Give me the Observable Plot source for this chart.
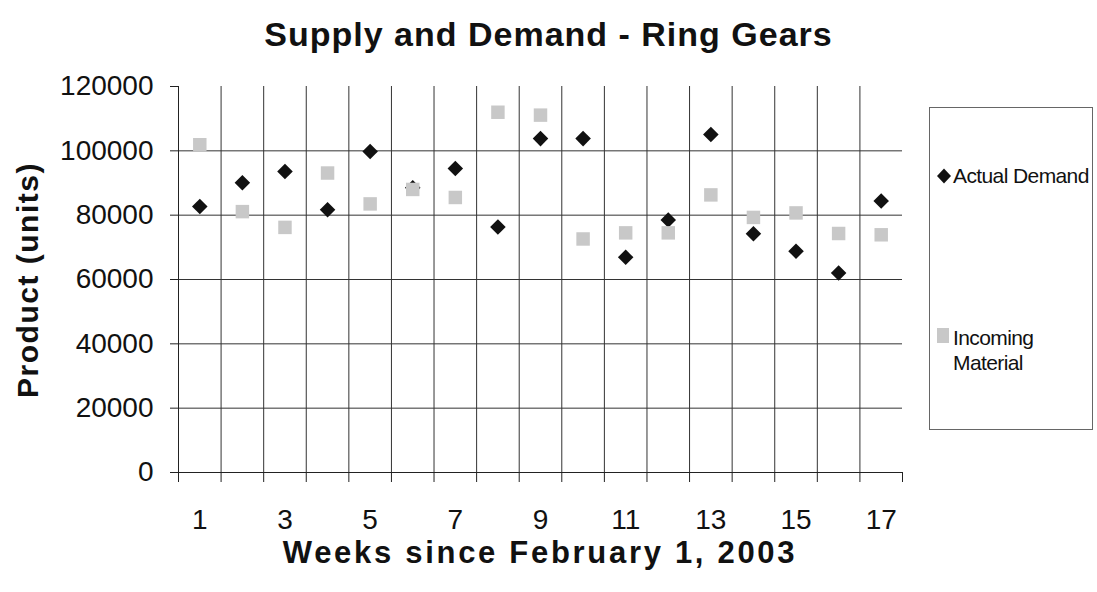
<!DOCTYPE html>
<html>
<head>
<meta charset="utf-8">
<script src="https://cdn.jsdelivr.net/npm/d3@7"></script>
<script src="https://cdn.jsdelivr.net/npm/@observablehq/plot@0.6"></script>
<style>
  html, body { margin: 0; padding: 0; background: #fff; }
  body { font-family: "Liberation Sans", Arial, sans-serif; color: #111; }
  #wrap { position: relative; width: 1097px; height: 592px; overflow: hidden; }
  #wrap > svg { position: absolute; left: 0; top: 0; }
  .title { position: absolute; left: 0; width: 1097px; top: 13px; text-align: center;
           font-weight: bold; font-size: 34px; letter-spacing: 1px; line-height: 42px; }
  .xtitle { position: absolute; left: 178px; width: 724px; top: 537px; text-align: center;
            font-weight: bold; font-size: 31px; letter-spacing: 2.7px; line-height: 32px; }
  .ytitle { position: absolute; left: 28px; top: 280px; transform: translate(-50%, -50%) rotate(-90deg);
            white-space: nowrap; font-weight: bold; font-size: 30px; letter-spacing: 1.5px; line-height: 36px; }
  .legend { position: absolute; left: 929px; top: 107px; width: 164px; height: 323px;
            border: 1px solid #666; box-sizing: border-box; background: #fff; }
  .sym { position: absolute; left: 7px; }
  .ltext { position: absolute; left: 23px; font-size: 21px; letter-spacing: -0.6px; line-height: 25px; white-space: pre; }
</style>
</head>
<body>
<div id="wrap"></div>
<script>
// ---- data ----
const weeks = [1, 2, 3, 4, 5, 6, 7, 8, 9, 10, 11, 12, 13, 14, 15, 16, 17];
const actualDemand = [82700, 90100, 93600, 81700, 99800, 88500, 94500, 76300, 103800, 103800, 66900, 78500, 105100, 74200, 68800, 62000, 84400];
const incomingMaterial = [101900, 81100, 76200, 93100, 83500, 88000, 85500, 112000, 111100, 72600, 74500, 74500, 86300, 79300, 80700, 74300, 73900];
const yTickValues = [0, 20000, 40000, 60000, 80000, 100000, 120000];
const xTickLabels = [1, 3, 5, 7, 9, 11, 13, 15, 17];
const seriesNames = ["Actual Demand", "Incoming Material"];
const titleText = "Supply and Demand - Ring Gears";
const xTitleText = "Weeks since February 1, 2003";
const yTitleText = "Product (units)";

// ---- derived tables ----
const demandData = weeks.map((w, i) => ({week: w, value: actualDemand[i]}));
const incomingData = weeks.map((w, i) => ({week: w, value: incomingMaterial[i]}));
const categoryEdges = [weeks[0] - 0.5, ...weeks.map(w => w + 0.5)];
const innerEdges = categoryEdges.slice(1, -1);
const yMax = yTickValues[yTickValues.length - 1];

const chart = Plot.plot({
  width: 1097,
  height: 592,
  marginLeft: 178,
  marginRight: 195,
  marginTop: 86,
  marginBottom: 120,
  style: {fontFamily: '"Liberation Sans", Arial, sans-serif', background: "transparent", color: "#111", overflow: "visible"},
  x: {domain: [categoryEdges[0], categoryEdges[categoryEdges.length - 1]]},
  y: {domain: [0, yMax]},
  marks: [
    Plot.ruleY(yTickValues.filter(d => d > 0 && d < yMax), {stroke: "#333", strokeWidth: 1}),
    Plot.ruleX(innerEdges, {y1: 0, y2: yMax, stroke: "#333", strokeWidth: 1}),
    Plot.ruleX([categoryEdges[0]], {y1: 0, y2: yMax, stroke: "#222", strokeWidth: 1}),
    Plot.ruleY([0], {stroke: "#222", strokeWidth: 1}),
    Plot.axisY({ticks: yTickValues, tickFormat: d => String(d), tickSize: 8, tickPadding: 17, fontSize: 28, label: null, stroke: "#222"}),
    Plot.axisX({ticks: categoryEdges, tickFormat: () => "", tickSize: 10, label: null, stroke: "#222"}),
    Plot.axisX({ticks: xTickLabels, tickFormat: d => String(d), tickSize: 0, tickPadding: 37, fontSize: 28, label: null}),
    Plot.dot(demandData, {x: "week", y: "value", symbol: "diamond2", r: 7, fill: "#111", stroke: "none"}),
    Plot.dot(incomingData, {x: "week", y: "value", symbol: "square", r: 7.6, fill: "#c8c8c8", stroke: "none"})
  ]
});

const wrap = document.getElementById("wrap");
wrap.appendChild(chart);

function addDiv(parent, cls, text) {
  const d = document.createElement("div");
  d.className = cls;
  d.textContent = text;
  parent.appendChild(d);
  return d;
}
addDiv(wrap, "title", titleText);
addDiv(wrap, "xtitle", xTitleText);
addDiv(wrap, "ytitle", yTitleText);

const legend = document.createElement("div");
legend.className = "legend";
wrap.appendChild(legend);

// legend entry 1: diamond
const s1 = document.createElement("div");
s1.className = "sym";
s1.style.top = "60px";
s1.innerHTML = '<svg width="14" height="16" viewBox="-7 -8 14 16"><path d="M0,-7.5L7,0L0,7.5L-7,0Z" fill="#111"/></svg>';
legend.appendChild(s1);
const t1 = addDiv(legend, "ltext", seriesNames[0]);
t1.style.top = "55px";

// legend entry 2: square
const s2 = document.createElement("div");
s2.className = "sym";
s2.style.top = "220px";
s2.innerHTML = '<svg width="12" height="15"><rect x="0" y="0" width="12" height="15" fill="#c8c8c8"/></svg>';
legend.appendChild(s2);
const t2 = addDiv(legend, "ltext", seriesNames[1].replace(" ", "\n"));
t2.style.top = "217px";
</script>
</body>
</html>
